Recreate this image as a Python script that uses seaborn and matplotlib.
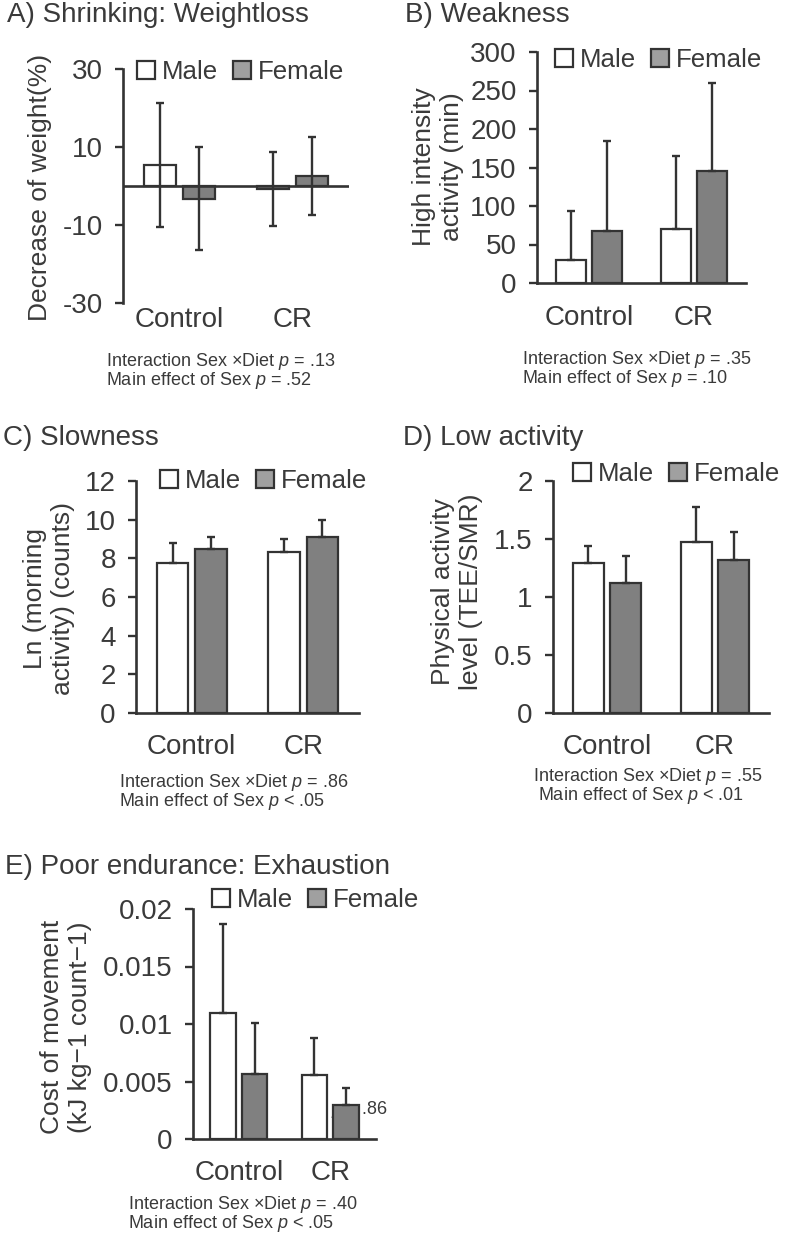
import numpy as np
import pandas as pd
import matplotlib
matplotlib.use("Agg")
import matplotlib.pyplot as plt
import seaborn as sns
from matplotlib.patches import Patch

diets = ["Control", "CR"]
sexes = ["Male", "Female"]

# A) Shrinking: weight loss (%), mean and sd (error bars both ways)
a_male = [5.5, -0.8]
a_female = [-3.3, 2.6]
a_male_err = [15.9, 9.5]
a_female_err = [13.2, 10.0]
a_ticks = [-30, -10, 10, 30]
a_ticklabels = ["-30", "-10", "10", "30"]

# B) Weakness: high intensity activity (min)
b_male = [30, 70]
b_female = [67.5, 145.5]
b_male_err = [64, 95]
b_female_err = [116.5, 114.5]
b_ticks = [0, 50, 100, 150, 200, 250, 300]
b_ticklabels = ["0", "50", "100", "150", "200", "250", "300"]

# C) Slowness: ln(morning activity counts)
c_male = [7.76, 8.35]
c_female = [8.5, 9.1]
c_male_err = [1.04, 0.65]
c_female_err = [0.6, 0.9]
c_ticks = [0, 2, 4, 6, 8, 10, 12]
c_ticklabels = ["0", "2", "4", "6", "8", "10", "12"]

# D) Low activity: PAL (TEE/SMR)
d_male = [1.29, 1.47]
d_female = [1.12, 1.32]
d_male_err = [0.15, 0.31]
d_female_err = [0.23, 0.24]
d_ticks = [0, 0.5, 1, 1.5, 2]
d_ticklabels = ["0", "0.5", "1", "1.5", "2"]

# E) Poor endurance: cost of movement
e_male = [0.0110, 0.0056]
e_female = [0.00565, 0.0030]
e_male_err = [0.0077, 0.0032]
e_female_err = [0.00445, 0.0014]
e_ticks = [0, 0.005, 0.01, 0.015, 0.02]
e_ticklabels = ["0", "0.005", "0.01", "0.015", "0.02"]

sns.set_style("ticks")
plt.rcParams["font.family"] = ["Liberation Sans", "DejaVu Sans"]
plt.rcParams["mathtext.fontset"] = "custom"
plt.rcParams["mathtext.it"] = "Liberation Sans:italic"
plt.rcParams["mathtext.rm"] = "Liberation Sans"
plt.rcParams["axes.unicode_minus"] = False

W, H = 787, 1236
ink = "#333333"
txt = "#3a3a3a"
female_col = "#808080"

fig = plt.figure(figsize=(W / 100, H / 100), dpi=100)


def fx(px):
    return px / W


def fy(py):
    return 1 - py / H


def panel(box, male, female, male_err, female_err, ylim, ticks, ticklabels,
          ylabel, ylab_xy, title, title_xy, leg_xy, notes, notes_xy,
          both=False, xpad=15):
    l, t, r, b = box
    ax = fig.add_axes([fx(l), fy(b), (r - l) / W, (b - t) / H])
    df = pd.DataFrame({
        "diet": diets * 2,
        "sex": ["Male"] * 2 + ["Female"] * 2,
        "value": list(male) + list(female),
    })
    sns.barplot(data=df, x="diet", y="value", hue="sex", order=diets,
                hue_order=sexes, palette={"Male": "white", "Female": female_col},
                edgecolor=ink, linewidth=1.6, width=0.69, gap=0.18,
                errorbar=None, legend=False, ax=ax, saturation=1)
    for cont, err in zip(ax.containers, [male_err, female_err]):
        xs = [p.get_x() + p.get_width() / 2 for p in cont.patches]
        ys = [p.get_y() + p.get_height() for p in cont.patches]
        lower = err if both else [0] * len(err)
        ax.errorbar(xs, ys, yerr=[lower, err], fmt="none", ecolor=ink,
                    elinewidth=1.7, capsize=2.6, capthick=1.7, zorder=4)
    ax.set_xlim(-0.5, 1.5)
    ax.set_ylim(*ylim)
    ax.set_yticks(ticks)
    ax.set_yticklabels(ticklabels)
    ax.set_xlabel("")
    sns.despine(ax=ax)
    for s in ["left", "bottom"]:
        ax.spines[s].set_color(ink)
        ax.spines[s].set_linewidth(1.9)
    if both:
        ax.spines["bottom"].set_visible(False)
        ax.axhline(0, color=ink, lw=1.9, zorder=3)
    ax.tick_params(axis="y", length=5.5, width=1.7, color=ink, pad=9,
                   labelsize=20, labelcolor=txt)
    ax.tick_params(axis="x", length=0, pad=xpad, labelsize=20, labelcolor=txt)
    ax.set_ylabel(ylabel, fontsize=19, color=txt, va="center", linespacing=1.25)
    ax.yaxis.set_label_coords(fx(ylab_xy[0]), fy(ylab_xy[1]), transform=fig.transFigure)
    handles = [Patch(facecolor="white", edgecolor=ink, lw=1.6),
               Patch(facecolor="#a0a0a0", edgecolor=ink, lw=1.6)]
    ax.legend(handles, sexes, loc="center left",
              bbox_to_anchor=(fx(leg_xy[0]), fy(leg_xy[1])),
              bbox_transform=fig.transFigure, ncol=2, frameon=False,
              fontsize=18.6, handlelength=0.7, handleheight=0.7,
              handletextpad=0.25, columnspacing=0.6, borderpad=0,
              borderaxespad=0, labelcolor=txt)
    fig.text(fx(title_xy[0]), fy(title_xy[1]), title, fontsize=20,
             color=txt, ha="left", va="center")
    fig.text(fx(notes_xy[0]), fy(notes_xy[1]), "\n".join(notes), fontsize=13,
             color=txt, ha="left", va="center", linespacing=0.88)
    return ax


panel((123, 69, 349, 303), a_male, a_female, a_male_err, a_female_err,
      (-30, 30), a_ticks, a_ticklabels, "Decrease of weight(%)", (40, 187),
      "A) Shrinking: Weightloss", (7, 15), (137, 72),
      ["Interaction Sex ×Diet $p$ = .13", "Main effect of Sex $p$ = .52"],
      (106, 371), both=True, xpad=3)

panel((537, 52, 746, 283), b_male, b_female, b_male_err, b_female_err,
      (0, 300), b_ticks, b_ticklabels, "High intensity\nactivity (min)", (438, 167),
      "B) Weakness", (405, 15), (555, 60),
      ["Interaction Sex ×Diet $p$ = .35", "Main effect of Sex $p$ = .10"],
      (522, 369), xpad=16)

panel((136, 481, 359, 713), c_male, c_female, c_male_err, c_female_err,
      (0, 12), c_ticks, c_ticklabels, "Ln (morning\nactivity) (counts)", (49, 598),
      "C) Slowness", (3, 438), (160, 481),
      ["Interaction Sex ×Diet $p$ = .86", "Main effect of Sex $p$ < .05"],
      (119, 792), xpad=15)

panel((553, 481, 769, 713), d_male, d_female, d_male_err, d_female_err,
      (0, 2), d_ticks, d_ticklabels, "Physical activity\nlevel (TEE/SMR)", (457, 592),
      "D) Low activity", (403, 438), (573, 474),
      ["Interaction Sex ×Diet $p$ = .55", " Main effect of Sex $p$ < .01"],
      (533, 786), xpad=15)

axE = panel((193, 909, 376, 1139), e_male, e_female, e_male_err, e_female_err,
            (0, 0.02), e_ticks, e_ticklabels, "Cost of movement\n(kJ kg\u22121 count\u22121)",
            (66, 1027), "E) Poor endurance: Exhaustion", (5, 867), (212, 900),
            ["Interaction Sex ×Diet $p$ = .40", "Main effect of Sex $p$ < .05"],
            (128, 1214), xpad=15)

# stray label partly hidden behind the CR female bar, as in the original
axE.text(fx(331), fy(1110), "$p$ = .86", transform=fig.transFigure, fontsize=13,
         color=txt, ha="left", va="center", zorder=0.5, clip_on=False)

fig.savefig("out.png", dpi=100)
